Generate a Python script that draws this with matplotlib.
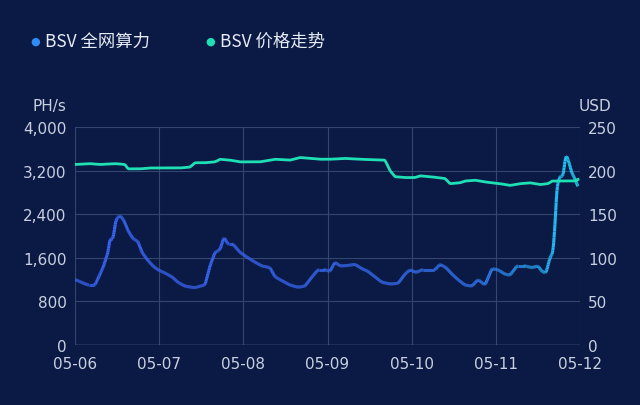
import numpy as np
import matplotlib
matplotlib.use("Agg")
import matplotlib.pyplot as plt
from matplotlib.collections import LineCollection
from matplotlib.colors import LinearSegmentedColormap

# x positions in days since 05-06
hash_days = np.array([75,88,95,100,103,108,110,113,116,120,124,128,133,138,142,148,153,158,165,172,178,185,195,200,205,210,215,220,224,228,233,240,248,255,262,270,275,282,290,298,305,312,318,325,330,335,340,348,355,362,368,375,382,390,398,405,410,416,422,428,435,440,446,452,458,465,472,478,485,492,498,505,510,517,525,532,538,542,546,550,553,555,557,560,563,566,569,572,575,578])
hash_days = (hash_days - 75) / 84.17
hash_vals = np.array([1200,1100,1100,1300,1420,1700,1950,1950,2300,2380,2280,2100,1950,1900,1700,1550,1450,1380,1320,1250,1150,1080,1050,1080,1100,1450,1700,1750,1980,1850,1850,1700,1600,1520,1450,1420,1250,1180,1100,1060,1080,1250,1380,1380,1350,1520,1450,1460,1480,1400,1350,1250,1150,1120,1130,1300,1380,1330,1380,1380,1380,1480,1420,1300,1200,1100,1080,1200,1100,1400,1380,1300,1280,1450,1450,1420,1450,1350,1320,1600,1700,2200,2900,3100,3100,3500,3350,3150,3050,2900])

price_days = np.array([75,90,100,115,125,128,140,150,180,190,195,205,215,220,230,240,260,275,290,300,310,320,330,345,360,385,390,395,405,415,420,430,445,450,460,465,475,485,500,510,520,530,540,548,552,560,575,578])
price_days = (price_days - 75) / 84.17
price_vals = np.array([207,208,207,208,207,202,202,203,203,204,209,209,210,213,212,210,210,213,212,215,214,213,213,214,213,212,200,193,192,192,194,193,191,185,186,188,189,187,185,183,185,186,184,185,188,188,188,190])

x_labels = ["05-06","05-07","05-08","05-09","05-10","05-11","05-12"]
left_ticks = [0,800,1600,2400,3200,4000]
right_ticks = [0,50,100,150,200,250]

bg = "#0b1a45"
fig = plt.figure(figsize=(6.4,4.06), dpi=100, facecolor=bg)
ax = fig.add_axes([75/640, 1-346/406, 505/640, 218/406], facecolor=bg)
ax2 = ax.twinx()

xs = np.linspace(0, hash_days[-1], 1200)
ys = np.interp(xs, hash_days, hash_vals)
k = np.ones(5)/5
ys = np.convolve(np.pad(ys,2,mode='edge'), k, mode='valid')
pts = np.array([xs, ys]).T.reshape(-1,1,2)
segs = np.concatenate([pts[:-1], pts[1:]], axis=1)
cmap = LinearSegmentedColormap.from_list("g", ["#3a66f5", "#3478f4", "#1ecdf0"])
lc = LineCollection(segs, cmap=cmap, linewidth=2.2, zorder=3)
lc.set_array(xs[:-1]**3)
ax.add_collection(lc)

px = np.linspace(0, price_days[-1], 1200)
py = np.interp(px, price_days, price_vals)
py = np.convolve(np.pad(py,2,mode='edge'), k, mode='valid')
ax2.plot(px, py, color="#1fe0b5", lw=2.0)

ax.set_xlim(0, 6)
ax.set_ylim(0, 4000)
ax2.set_ylim(0, 250)
ax.set_xticks(range(7))
ax.set_xticklabels(x_labels)
ax.set_yticks(left_ticks)
ax.set_yticklabels([f"{v:,}" for v in left_ticks])
ax2.set_yticks(right_ticks)
grid_c = "#34466e"
ax.grid(True, color=grid_c, lw=0.8)
for a in (ax, ax2):
    for s in a.spines.values():
        s.set_visible(False)
    a.tick_params(colors="#c8d0e0", labelsize=11, length=0, pad=6)
ax.tick_params(axis='x', length=0, pad=8)
ax.axhline(0, color="#6a7898", lw=1)
ax.text(-0.05, 1.08, "PH/s", transform=ax.transAxes, color="#c8d0e0", fontsize=11, ha="center")
ax2.text(1.03, 1.08, "USD", transform=ax.transAxes, color="#c8d0e0", fontsize=11, ha="center")

font = "Noto Sans CJK SC"
fig.text(35/640, 1-42/406, "●", color="#2f8cf3", fontsize=8, va="center", ha="center")
fig.text(45/640, 1-42/406, "BSV 全网算力", color="#e6ebf5", fontsize=12.5, va="center", family=font)
fig.text(210/640, 1-42/406, "●", color="#1fe0b5", fontsize=8, va="center", ha="center")
fig.text(220/640, 1-42/406, "BSV 价格走势", color="#e6ebf5", fontsize=12.5, va="center", family=font)

fig.savefig("out.png", dpi=100, facecolor=bg)
